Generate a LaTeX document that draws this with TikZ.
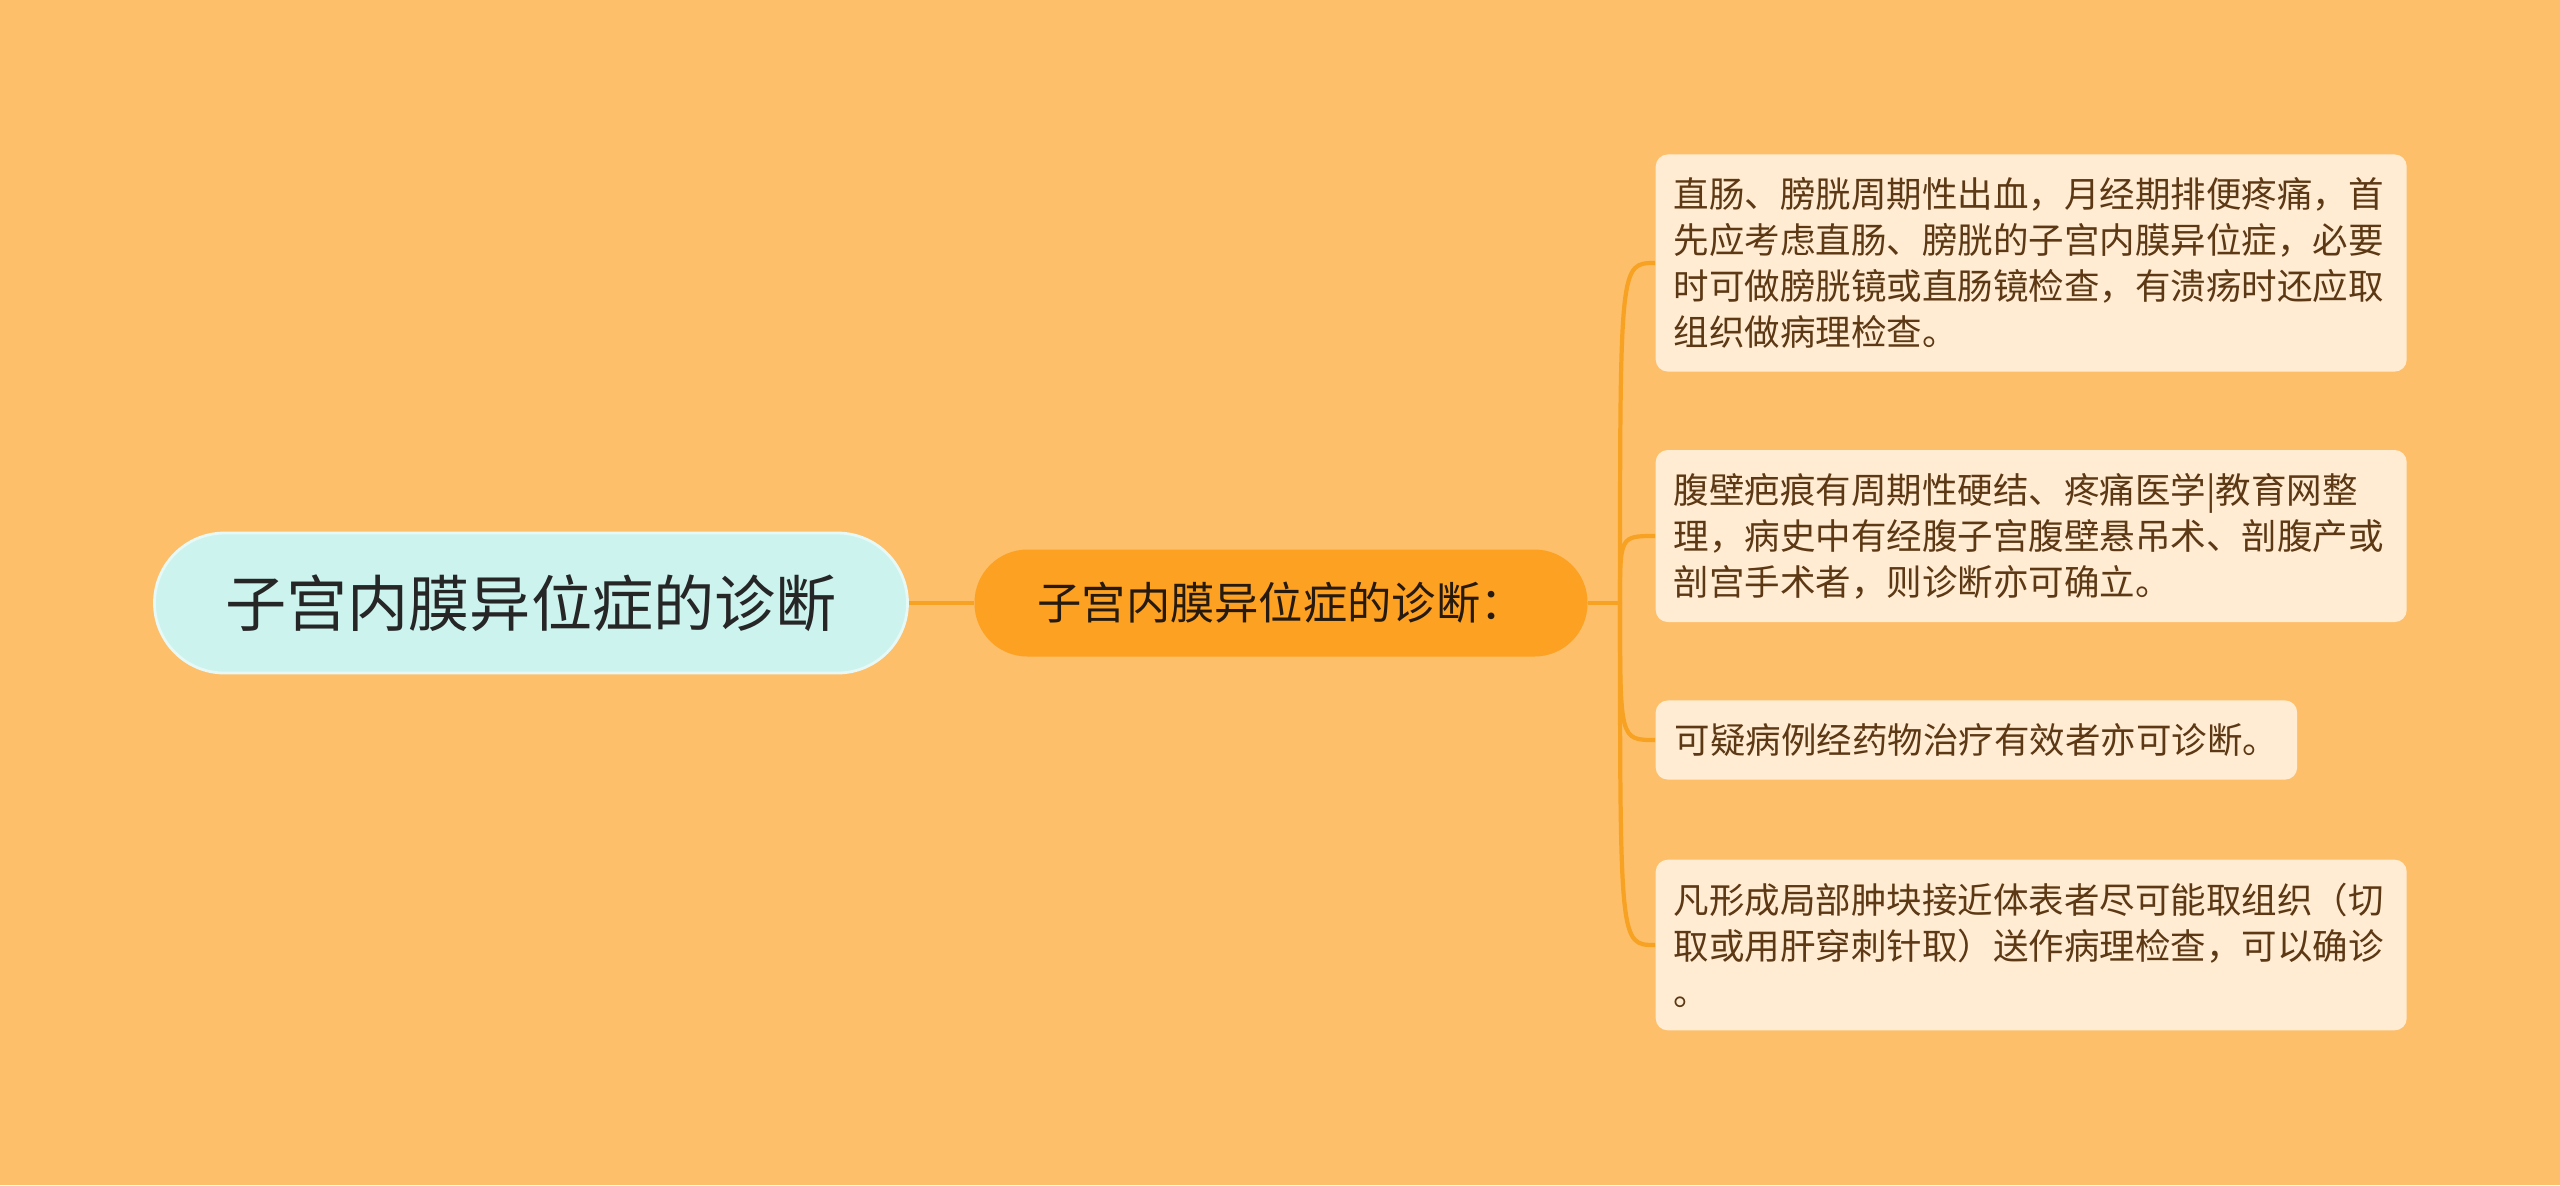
\documentclass[tikz,border=0pt]{standalone}
\usepackage{fontspec}
\newfontfamily\cjk{Noto Sans CJK SC}
\usepackage{tikz}

\definecolor{bgcol}{RGB}{254,191,106}
\definecolor{rootcol}{RGB}{204,243,238}
\definecolor{subcol}{RGB}{252,161,34}
\definecolor{leafcol}{RGB}{255,236,210}
\definecolor{linkcol}{RGB}{247,162,34}
\definecolor{leaftext}{RGB}{92,56,20}

\begin{document}
\begin{tikzpicture}[
        rootnode/.style={fill=rootcol, draw=rootcol!50!white, line width=0.8pt, rounded corners=0.7cm,
            minimum width=7.53cm, minimum height=1.40cm, inner sep=0pt,
            font=\cjk\fontsize{17.4pt}{20pt}\selectfont, text=black!85},
        subnode/.style={fill=subcol, rounded corners=0.53cm,
            minimum width=6.13cm, minimum height=1.07cm, inner sep=0pt,
            font=\cjk\fontsize{12.6pt}{15pt}\selectfont, text=black!80!brown},
        leaf/.style={fill=leafcol, rounded corners=0.12cm, anchor=west, align=left,
            inner xsep=0.19cm, inner ysep=0.23cm,
            font=\cjk\fontsize{10.1pt}{13.1pt}\selectfont, text=leaftext},
        wideleaf/.style={leaf, inner xsep=0.18cm, text width=7.15cm},
        link/.style={draw=linkcol, line width=1.2pt}
    ]
        \fill[bgcol] (0,0) rectangle (25.6,-11.85);

        \node[rootnode] (root) at (5.31,-6.03) {子宫内膜异位症的诊断};
        \node[subnode] (diag) at (12.81,-6.03) {子宫内膜异位症的诊断：};
        \coordinate (fork) at (16.20,-6.03);

        \node[wideleaf] (rectum) at (16.55,-2.63) {直肠、膀胱周期性出血，月经期排便疼痛，首\\先应考虑直肠、膀胱的子宫内膜异位症，必要\\时可做膀胱镜或直肠镜检查，有溃疡时还应取\\组织做病理检查。};
        \node[wideleaf] (scar) at (16.55,-5.36) {腹壁疤痕有周期性硬结、疼痛医学|教育网整\\理，病史中有经腹子宫腹壁悬吊术、剖腹产或\\剖宫手术者，则诊断亦可确立。};
        \node[leaf] (drug) at (16.55,-7.40) {可疑病例经药物治疗有效者亦可诊断。};
        \node[wideleaf] (biopsy) at (16.55,-9.45) {凡形成局部肿块接近体表者尽可能取组织（切\\取或用肝穿刺针取）送作病理检查，可以确诊\\。};

        \draw[link, line width=1.4pt] (root.east) -- (diag.west);
        \draw[link] (diag.east) -- (fork);
        \foreach \n in {rectum,scar,drug,biopsy}
            \draw[link] (fork) .. controls (fork |- \n.west) .. (\n.west);
    \end{tikzpicture}
\end{document}
